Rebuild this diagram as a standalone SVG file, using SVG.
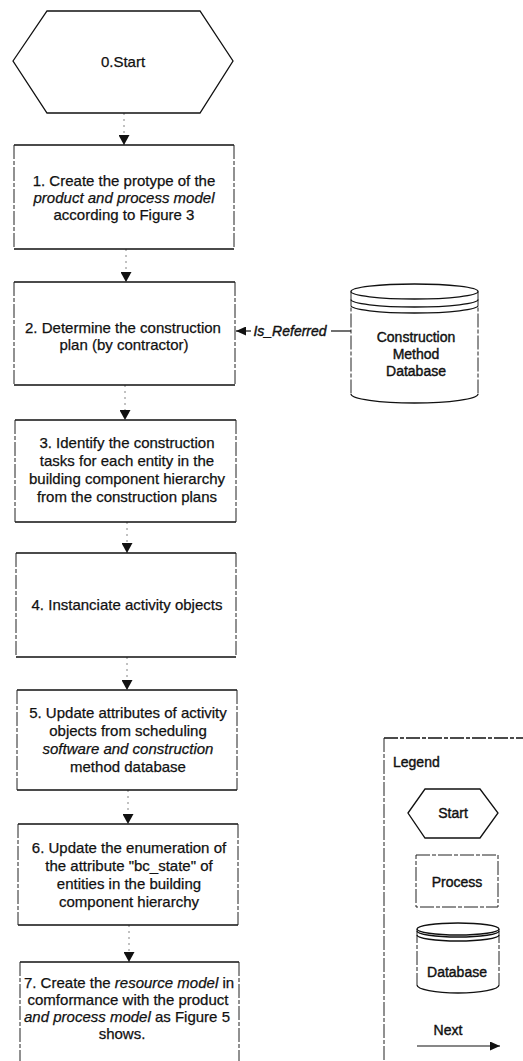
<svg xmlns="http://www.w3.org/2000/svg" width="523" height="1061" viewBox="0 0 523 1061">
  <style>
    .t{font-family:"Liberation Sans",Arial,Helvetica,sans-serif;font-size:15px;fill:#111;stroke:#111;stroke-width:0.25;text-anchor:middle}
    .s{font-size:14px;stroke-width:0.4}
    .i{font-style:italic}
    .hex{fill:#fff;stroke:#111;stroke-width:1.3}
    .edge{stroke:#111;stroke-width:1.4;fill:none}
    .side{stroke:#222;stroke-width:1;stroke-dasharray:14 2 4 2;fill:none}
    .db{fill:none;stroke:#111;stroke-width:1.3}
    .conn{stroke:#666;stroke-width:0.8;stroke-dasharray:2 4;fill:none}
    .solid{stroke:#111;stroke-width:1.2;fill:none}
  </style>
  <defs>
    <marker id="tri" viewBox="0 0 10 11" refX="10" refY="5.5" markerWidth="10" markerHeight="11" orient="auto" markerUnits="userSpaceOnUse">
      <path d="M0,0 L10,5.5 L0,11 Z" fill="#111"/>
    </marker>
    <marker id="triS" viewBox="0 0 10 9" refX="10" refY="4.5" markerWidth="10" markerHeight="9" orient="auto" markerUnits="userSpaceOnUse">
      <path d="M0,0 L10,4.5 L0,9 Z" fill="#111"/>
    </marker>
  </defs>
  <rect width="523" height="1061" fill="#fff"/>

  <!-- flow connectors -->
  <g id="connectors">
    <path class="conn" d="M124,113 V145" marker-end="url(#tri)"/>
    <path class="conn" d="M126,249 V282" marker-end="url(#tri)"/>
    <path class="conn" d="M125,385 V420" marker-end="url(#tri)"/>
    <path class="conn" d="M127,522 V553" marker-end="url(#tri)"/>
    <path class="conn" d="M127,657 V690" marker-end="url(#tri)"/>
    <path class="conn" d="M128,790 V824" marker-end="url(#tri)"/>
    <path class="conn" d="M129,925 V962" marker-end="url(#tri)"/>
    <!-- reference link from the database to step 2 -->
    <g id="is-referred">
      <path class="solid" d="M351,331 H331"/>
      <path class="solid" d="M251,331 H236" marker-end="url(#triS)"/>
      <text class="t s i" x="290" y="336">Is_Referred</text>
    </g>
  </g>

  <g id="n0">
    <polygon class="hex" points="13,61 47,11 200,11 233,61 200,113 47,113"/>
    <text class="t" x="123" y="67">0.Start</text>
  </g>

  <g id="n1">
    <path class="edge" d="M14,145 H234 M14,249 H234"/>
    <path class="side" d="M14,145 V249 M234,145 V249"/>
    <text class="t" x="124" y="186">1. Create the protype of the</text>
    <text class="t i" x="124" y="203">product and process model</text>
    <text class="t" x="124" y="220">according to Figure 3</text>
  </g>

  <g id="n2">
    <path class="edge" d="M14,282 H235 M14,385 H235"/>
    <path class="side" d="M14,282 V385 M235,282 V385"/>
    <text class="t" x="123" y="333">2. Determine the construction</text>
    <text class="t" x="124" y="350">plan (by contractor)</text>
  </g>

  <g id="n3">
    <path class="edge" d="M15,420 H236 M15,522 H236"/>
    <path class="side" d="M15,420 V522 M236,420 V522"/>
    <text class="t" x="127" y="448">3. Identify the construction</text>
    <text class="t" x="127" y="466">tasks for each entity in the</text>
    <text class="t" x="127" y="484">building component hierarchy</text>
    <text class="t" x="127" y="502">from the construction plans</text>
  </g>

  <g id="n4">
    <path class="edge" d="M16,553 H236 M16,657 H236"/>
    <path class="side" d="M16,553 V657 M236,553 V657"/>
    <text class="t" x="127" y="610">4. Instanciate activity objects</text>
  </g>

  <g id="n5">
    <path class="edge" d="M17,690 H237 M17,790 H237"/>
    <path class="side" d="M17,690 V790 M237,690 V790"/>
    <text class="t" x="128" y="718">5. Update attributes of activity</text>
    <text class="t" x="128" y="736">objects from scheduling</text>
    <text class="t i" x="128" y="754">software and construction</text>
    <text class="t" x="128" y="772">method database</text>
  </g>

  <g id="n6">
    <path class="edge" d="M18,824 H238 M18,925 H238"/>
    <path class="side" d="M18,824 V925 M238,824 V925"/>
    <text class="t" x="129" y="853">6. Update the enumeration of</text>
    <text class="t" x="129" y="871">the attribute "bc_state" of</text>
    <text class="t" x="129" y="889">entities in the building</text>
    <text class="t" x="129" y="907">component hierarchy</text>
  </g>

  <g id="n7">
    <path class="edge" d="M20,962 H239"/>
    <path class="side" d="M20,962 V1061 M239,962 V1061"/>
    <text class="t" x="129" y="988">7. Create the <tspan class="i">resource model</tspan> in</text>
    <text class="t" x="128" y="1005">comformance with the product</text>
    <text class="t" x="127" y="1022"><tspan class="i">and process model</tspan> as Figure 5</text>
    <text class="t" x="122" y="1039">shows.</text>
  </g>

  <g id="db">
    <path class="side" d="M351,291.5 V394 M478,291.5 V394"/>
    <ellipse class="db" cx="414.5" cy="291.5" rx="63.5" ry="7.5"/>
    <path class="db" d="M351,299.5 A63.5,7.5 0 0 0 478,299.5 M351,305.5 A63.5,7.5 0 0 0 478,305.5 M351,394 A63.5,9 0 0 0 478,394"/>
    <text class="t s" x="416" y="342">Construction</text>
    <text class="t s" x="416" y="359">Method</text>
    <text class="t s" x="416" y="376">Database</text>
  </g>

  <g id="legend">
    <path class="edge" d="M384,738 H523" stroke-dasharray="14 2 4 2"/>
    <path class="side" d="M384,738 V1061"/>
    <text class="t s" x="393" y="767" style="text-anchor:start">Legend</text>
    <polygon class="hex" points="408,813 425,789 480,789 498,813 480,838 425,838"/>
    <text class="t s" x="453" y="818">Start</text>
    <path class="side" d="M416,855 H498 V907 H416 Z"/>
    <text class="t s" x="457" y="887">Process</text>
    <path class="side" d="M417,929 V985 M499,929 V985"/>
    <ellipse class="db" cx="458" cy="929" rx="41" ry="6"/>
    <path class="db" d="M417,931 A41,6 0 0 0 499,931 M417,935 A41,6 0 0 0 499,935 M417,985 A41,8 0 0 0 499,985"/>
    <text class="t s" x="457" y="977">Database</text>
    <text class="t s" x="448" y="1035">Next</text>
    <path class="solid" d="M417,1046 H500" marker-end="url(#triS)"/>
  </g>
</svg>
